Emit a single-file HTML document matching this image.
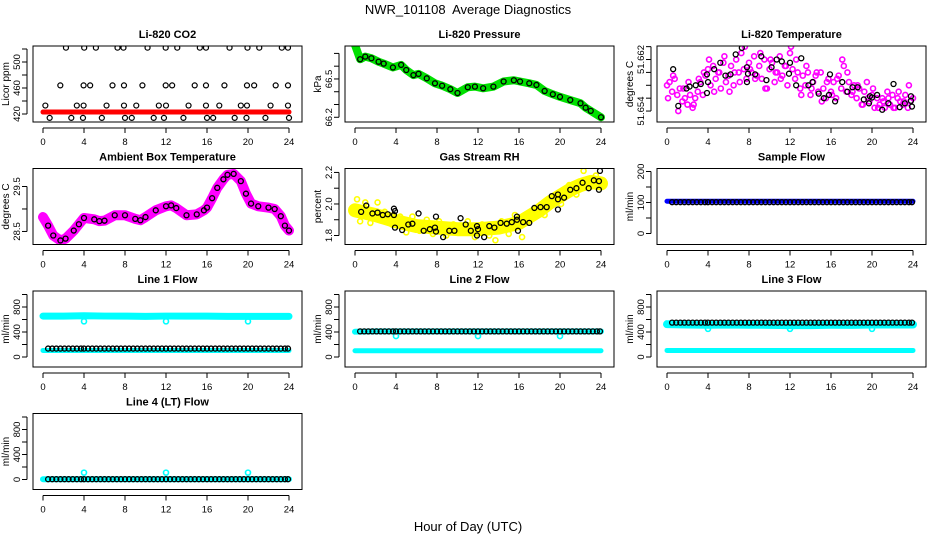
<!DOCTYPE html>
<html><head><meta charset="utf-8"><style>
html,body{margin:0;padding:0;background:#fff}
svg{display:block;font-family:"Liberation Sans",Arial,sans-serif}
</style></head><body>
<svg id="chart" width="936" height="540" viewBox="0 0 936 540" xmlns="http://www.w3.org/2000/svg">
<rect width="936" height="540" fill="#fff"/>
<text x="468" y="14" text-anchor="middle" font-size="13" style="white-space:pre">NWR_101108  Average Diagnostics</text>
<text x="468" y="531" text-anchor="middle" font-size="13">Hour of Day (UTC)</text>
</svg>
<script>
// ---- shared data ----
const xTicks = [0,4,8,12,16,20,24];
const blackTimes = [0.5,0.9,1.3,1.7,2.1,2.5,2.9,3.3,3.7,4.0,4.4,4.8,5.2,5.6,6.0,6.4,6.8,7.2,7.6,8.0,8.4,8.8,9.2,9.6,10.0,10.4,10.8,11.2,11.6,12.0,12.4,12.8,13.2,13.6,14.0,14.4,14.8,15.2,15.6,16.0,16.4,16.8,17.2,17.6,18.0,18.4,18.8,19.2,19.6,20.0,20.4,20.8,21.2,21.6,22.0,22.4,22.8,23.2,23.6,23.9];
const bandHours = [0,2,4,6,8,10,12,14,16,18,20,22,24];

// CO2
const co2RedVals = [423,423,423,423,423,423,423,423,423,423,423,423,423];
const co2BlackTimes = [2.24,4.02,5.16,7.27,7.85,10.2,11.97,13.1,15.3,15.9,18.2,19.95,21.1,23.3,23.9,
 1.69,3.96,4.6,6.78,7.9,9.7,11.97,12.6,14.8,15.9,17.7,19.9,20.6,22.7,23.9,
 0.23,3.3,3.96,6.2,7.9,9.1,11.3,12.0,14.2,15.9,17.2,19.3,19.9,22.2,23.9,
 0.65,2.76,3.9,5.74,8.0,8.66,10.8,11.8,13.7,16.0,16.6,18.7,19.85,21.7,24.0];
const co2BlackVals = [522,522,522,522,522,522,522,522,522,522,522,522,522,522,522,
 464,464,464,464,464,464,464,464,464,464,464,464,464,464,464,
 433,433,433,433,433,433,433,433,433,433,433,433,433,433,433,
 414,414,414,414,414,414,414,414,414,414,414,414,414,414,414];

// Pressure
const presHours = [0,0.5,1,1.6,2.3,2.8,3.7,4.5,5,5.7,6.2,7,7.8,8.5,9.3,10,11,11.7,12.5,13.5,14.5,15.5,16.1,17,17.7,18.5,19.3,20,21,22,22.5,23,24];
const presVals = [66.766,66.654,66.675,66.662,66.635,66.62,66.59,66.61,66.57,66.53,66.54,66.505,66.466,66.447,66.42,66.39,66.435,66.44,66.427,66.44,66.48,66.49,66.48,66.466,66.453,66.406,66.38,66.36,66.335,66.31,66.275,66.25,66.2];

// Li-820 temperature
const tempMagTimes = [0,0.25,0.5,0.75,1,1.25,1.5,1.75,2,2.25,2.5,2.75,3,3.25,3.5,3.75,4,4.25,4.5,4.75,5,5.25,5.5,5.75,6,6.25,6.5,6.75,7,7.25,7.5,7.75,8,8.25,8.5,8.75,9,9.25,9.5,9.75,10,10.25,10.5,10.75,11,11.25,11.5,11.75,12,12.25,12.5,12.75,13,13.25,13.5,13.75,14,14.25,14.5,14.75,15,15.25,15.5,15.75,16,16.25,16.5,16.75,17,17.25,17.5,17.75,18,18.25,18.5,18.75,19,19.25,19.5,19.75,20,20.25,20.5,20.75,21,21.25,21.5,21.75,22,22.25,22.5,22.75,23,23.25,23.5,23.75,24];
const tempMagVals = [51.6580,51.6585,51.6570,51.6590,51.6565,51.6575,51.6555,51.6560,51.6550,51.6565,51.6545,51.6560,
 51.6570,51.6585,51.6565,51.6595,51.6605,51.6580,51.6610,51.6590,51.6600,51.6575,51.6615,51.6585,
 51.6595,51.6610,51.6580,51.6620,51.6600,51.6630,51.6605,51.6590,51.6615,51.6600,51.6625,51.6595,
 51.6610,51.6590,51.6620,51.6575,51.6605,51.6615,51.6585,51.6600,51.6625,51.6595,51.6610,51.6580,
 51.6630,51.6605,51.6590,51.6600,51.6575,51.6595,51.6580,51.6600,51.6565,51.6585,51.6595,51.6570,
 51.6600,51.6575,51.6560,51.6590,51.6570,51.6585,51.6560,51.6595,51.6575,51.6610,51.6570,51.6585,
 51.6565,51.6580,51.6560,51.6575,51.6550,51.6570,51.6585,51.6555,51.6565,51.6545,51.6560,51.6550,
 51.6560,51.6545,51.6570,51.6550,51.6565,51.6545,51.6560,51.6555,51.6550,51.6565,51.6545,51.6555,
 51.6560];
const tempMag2Times = [0.1,0.6,1.1,1.6,2.1,2.6,3.1,3.6,4.1,4.6,5.1,5.6,6.1,6.6,7.1,7.6,8.1,8.6,9.1,9.6,10.1,10.6,11.1,11.6,12.1,12.6,13.1,13.6,14.1,14.6,15.1,15.6,16.1,16.6,17.1,17.6,18.1,18.6,19.1,19.6,20.1,20.6,21.1,21.6,22.1,22.6,23.1,23.6];
const tempMag2Vals = [51.6560,51.6595,51.6540,51.6575,51.6585,51.6550,51.6590,51.6600,51.6620,51.6570,51.6600,51.6625,51.6570,51.6600,51.6585,51.6640,51.6605,51.6590,51.6630,51.6575,51.6620,51.6600,51.6590,51.6610,51.6640,51.6620,51.6565,51.6610,51.6575,51.6600,51.6555,51.6585,51.6565,51.6590,51.6620,51.6600,51.6570,51.6580,51.6550,51.6560,51.6575,51.6545,51.6555,51.6560,51.6545,51.6570,51.6555,51.6580];
const tempBlackTimes = [0.6,1.1,1.9,2.2,2.8,3.3,3.9,3.9,4.0,4.6,5.2,5.7,6.2,6.7,7.3,7.8,7.8,7.9,8.6,9.2,9.7,10.2,10.7,11.2,11.9,12.0,12.6,13.1,13.8,14.2,14.8,15.3,15.8,15.9,16.4,17.1,17.6,18.1,18.6,19.2,19.7,19.8,20.0,20.5,21.0,21.6,22.1,22.7,23.2,23.8,23.8,23.9];
const tempBlackVals = [51.6605,51.6548,51.6575,51.6578,51.6580,51.6582,51.6597,51.6568,51.6585,51.6605,51.6615,51.6595,51.6597,51.6628,51.6638,51.6608,51.6585,51.6598,51.6597,51.6625,51.6588,51.6608,51.6620,51.6617,51.6598,51.6615,51.6580,51.6622,51.6580,51.6585,51.6567,51.6560,51.6565,51.6597,51.6555,51.6585,51.6570,51.6577,51.6577,51.6558,51.6552,51.6563,51.6561,51.6565,51.6542,51.6552,51.6582,51.6546,51.6552,51.6563,51.6556,51.6547];

// Ambient box temperature
const ambHours = [0,0.5,1,1.7,2.2,3,3.5,4,5,5.5,6,7,8,9,9.5,10,11,12,12.5,13,14,15,15.7,16,16.5,17,17.6,18,18.6,19.3,19.8,20.3,21,22,22.6,23.2,23.6,24];
const ambVals = [28.82,28.63,28.41,28.30,28.34,28.52,28.66,28.80,28.77,28.73,28.74,28.86,28.86,28.78,28.75,28.82,28.97,29.06,29.08,29.02,28.86,28.88,28.97,29.03,29.24,29.47,29.66,29.76,29.78,29.62,29.34,29.12,29.06,29.03,29.00,28.84,28.63,28.52];

// Gas stream RH
const rhBandHours = [0,2,4,6,8,10,12,14,16,17,18,19,20,21,22,23,24];
const rhBandVals = [1.96,1.93,1.89,1.86,1.85,1.84,1.84,1.85,1.88,1.92,1.96,2.01,2.05,2.09,2.12,2.14,2.13];
const rhYellowTimes = [0.2,0.5,1.0,1.5,2.2,2.9,3.6,4.4,5.0,5.6,6.3,7.0,7.6,8.2,8.9,9.6,10.4,11.0,11.7,12.4,13.1,13.7,14.3,15.0,15.6,16.3,17.0,17.8,18.5,19.3,20.1,20.9,21.6,22.3,23.0,23.5];
const rhYellowVals = [2.03,1.89,2.01,1.88,2.01,1.95,1.87,1.92,1.82,1.92,1.83,1.90,1.81,1.89,1.80,1.87,1.82,1.89,1.79,1.87,1.80,1.77,1.89,1.81,1.93,1.79,1.90,1.94,1.93,2.03,2.00,2.12,2.06,2.21,2.11,2.18];
const rhBlackTimes = [0.6,1.1,1.7,2.2,2.7,3.2,3.8,3.8,3.9,3.9,4.6,5.2,5.6,6.2,6.7,7.3,7.8,7.9,7.9,8.6,9.2,9.7,10.3,10.8,11.3,11.9,11.9,12.0,12.6,13.1,13.6,14.2,14.8,15.3,15.8,15.8,15.9,16.4,17.0,17.5,18.1,18.7,19.2,19.8,19.8,19.8,20.4,21.0,21.6,22.2,22.8,23.3,23.8,23.8,23.9];
const rhBlackVals = [1.95,1.99,1.94,1.945,1.93,1.935,1.97,1.93,1.955,1.85,1.835,1.87,1.875,1.94,1.83,1.84,1.85,1.92,1.825,1.79,1.83,1.83,1.91,1.87,1.83,1.80,1.86,1.84,1.79,1.86,1.85,1.88,1.875,1.885,1.92,1.90,1.83,1.885,1.88,1.975,1.98,1.98,2.05,2.06,2.03,1.965,2.04,2.09,2.10,2.135,2.10,2.15,2.145,2.09,2.21];

// Flows
const sampleBlueVals = [104,104,104,104,104,104,104,104,104,104,104,104,104];
const sampleBlackVals = [101,101,101,101,101,101,101,101,101,101,101,101,101,101,101,101,101,101,101,101,101,101,101,101,101,101,101,101,101,101,101,101,101,101,101,101,101,101,101,101,101,101,101,101,101,101,101,101,101,101,101,101,101,101,101,101,101,101,101,101];
const line1CyanHigh = [655,655,660,655,655,650,655,655,655,650,650,650,650];
const line1CyanLow = [105,105,105,105,105,105,105,105,105,105,105,105,105];
const line1BlackVals = [135,135,135,135,135,135,135,135,135,135,135,135,135,135,135,135,135,135,135,135,135,135,135,135,135,135,135,135,135,135,135,135,135,135,135,135,135,135,135,135,135,135,135,135,135,135,135,135,135,135,135,135,135,135,135,135,135,135,135,135];
const line2CyanHigh = [405,410,410,410,410,410,410,410,410,410,410,410,410];
const line2CyanLow = [100,100,100,100,100,100,100,100,100,100,100,100,100];
const line2BlackVals = [410,410,410,410,410,410,410,410,410,410,410,410,410,410,410,410,410,410,410,410,410,410,410,410,410,410,410,410,410,410,410,410,410,410,410,410,410,410,410,410,410,410,410,410,410,410,410,410,410,410,410,410,410,410,410,410,410,410,410,410];
const line3CyanHigh = [525,520,515,520,515,515,510,510,515,515,520,520,520];
const line3CyanLow = [105,105,105,105,105,105,105,105,105,105,105,105,105];
const line3BlackVals = [550,550,550,550,550,550,550,550,550,550,550,550,550,550,550,550,550,550,550,550,550,550,550,550,550,550,550,550,550,550,550,550,550,550,550,550,550,550,550,550,550,550,550,550,550,550,550,550,550,550,550,550,550,550,550,550,550,550,550,550];
const line4CyanVals = [5,5,5,5,5,5,5,5,5,5,5,5,5];
const line4BlackVals = [5,5,5,5,5,5,5,5,5,5,5,5,5,5,5,5,5,5,5,5,5,5,5,5,5,5,5,5,5,5,5,5,5,5,5,5,5,5,5,5,5,5,5,5,5,5,5,5,5,5,5,5,5,5,5,5,5,5,5,5];
const outlierTimes = [4,12,20];
const line1Outliers = [570,570,570];
const line2Outliers = [335,335,335];
const line3Outliers = [450,450,450];
const line4Outliers = [110,110,110];
const flowTicks = [0,200,400,600,800,1000];
const flowLabels = [0,400,800];

// ---- drawing ----
const svg = document.getElementById('chart');
const NS = 'http://www.w3.org/2000/svg';
function mk(tag, attrs, parent){
  const e = document.createElementNS(NS, tag);
  for (const k in attrs) e.setAttribute(k, attrs[k]);
  (parent||svg).appendChild(e);
  return e;
}
function panel(col,row,cfg){
  const L = 33 + 312*col, R = L + 269;
  const T = 46 + 122.5*row, B = T + 76;
  const g = mk('g', {});
  
  
  const xs = h => L + 10 + h*10.25;
  const ys = v => B - (v - cfg.lo)/(cfg.hi - cfg.lo)*76;
  const clipId = 'clip-' + cfg.name;
  const cp = mk('clipPath', {id: clipId}, g);
  mk('rect', {x: L, y: T, width: 269, height: 76}, cp);
  const marks = mk('g', {'clip-path': 'url(#' + clipId + ')'}, g);
  
  
  cfg.draw(marks, xs, ys);
  const box = mk('rect', {x: L, y: T, width: 269, height: 76, fill: 'none', stroke: '#000', 'stroke-width': 1}, g);
  
  
  const xa = mk('g', {}, g);
  
  
  mk('line', {x1: xs(0), x2: xs(24), y1: B+6, y2: B+6, stroke: '#000'}, xa);
  xTicks.forEach(t => {
    mk('line', {x1: xs(t), x2: xs(t), y1: B+6, y2: B+11, stroke: '#000'}, xa);
    const tx = mk('text', {x: xs(t), y: B+23, 'text-anchor': 'middle', 'font-size': 9.5}, xa);
    tx.textContent = t;
  });
  const ya = mk('g', {}, g);
  
  
  const tks = cfg.ticks;
  mk('line', {x1: L-6, x2: L-6, y1: ys(tks[0]), y2: ys(tks[tks.length-1]), stroke: '#000'}, ya);
  tks.forEach(t => mk('line', {x1: L-11, x2: L-6, y1: ys(t), y2: ys(t), stroke: '#000'}, ya));
  cfg.labels.forEach((t,i) => {
    const tx = mk('text', {x: 0, y: 0, 'text-anchor': 'middle', 'font-size': 9.5, transform: 'translate(' + (L-13) + ',' + ys(t) + ') rotate(-90)'}, ya);
    tx.textContent = cfg.labelText ? cfg.labelText[i] : t;
  });
  const yt = mk('text', {x: 0, y: 0, 'text-anchor': 'middle', 'font-size': 10, transform: 'translate(' + (L-24) + ',' + (T+38) + ') rotate(-90)'}, g);
  
  
  yt.textContent = cfg.ylab;
  const tt = mk('text', {x: L+134.5, y: T-8, 'text-anchor': 'middle', 'font-size': 11, 'font-weight': 'bold'}, g);
  
  
  tt.textContent = cfg.title;
}
function band(g, xs, ys, hrs, vals, color, w, name){
  const p = mk('polyline', {points: hrs.map((h,i) => xs(h) + ',' + ys(vals[i])).join(' '), fill: 'none', stroke: color, 'stroke-width': w, 'stroke-linejoin': 'round', 'stroke-linecap': 'round'}, g);
  
  
}
function pts(g, xs, ys, hrs, vals, color, sw, name){
  const gg = mk('g', {}, g);
  
  
  hrs.forEach((h,i) => {
    const c = mk('circle', {cx: xs(h), cy: ys(vals[i]), r: 2.5, fill: 'none', stroke: color, 'stroke-width': sw}, gg);
    
    
  });
}
const CY = '#00ffff';

panel(0,0,{name:'co2', title:'Li-820 CO2', ylab:'Licor ppm', lo:407.7, hi:524.6, ticks:[420,440,460,480,500,520], labels:[420,460,500],
  draw:(g,xs,ys)=>{ band(g,xs,ys,bandHours,co2RedVals,'#ff0000',5,'co2-red-series'); pts(g,xs,ys,co2BlackTimes,co2BlackVals,'#000',1.2,'co2-black-points'); }});
panel(1,0,{name:'pressure', title:'Li-820 Pressure', ylab:'kPa', lo:66.163, hi:66.758, ticks:[66.2,66.3,66.4,66.5,66.6,66.7], labels:[66.2,66.5],
  draw:(g,xs,ys)=>{ band(g,xs,ys,presHours,presVals,'#00e000',8,'pressure-green-series'); pts(g,xs,ys,presHours.slice(1),presVals.slice(1),'#000',1.3,'pressure-black-points'); }});
panel(2,0,{name:'li820-temp', title:'Li-820 Temperature', ylab:'degrees C', lo:51.6523, hi:51.6641, ticks:[51.654,51.656,51.658,51.66,51.662,51.664], labels:[51.654,51.662], labelText:['51.654','51.662'],
  draw:(g,xs,ys)=>{ pts(g,xs,ys,tempMagTimes,tempMagVals,'#ff00ff',1.6,'temp-magenta-points'); pts(g,xs,ys,tempMag2Times,tempMag2Vals,'#ff00ff',1.6,'temp-magenta-points-2'); pts(g,xs,ys,tempBlackTimes,tempBlackVals,'#000',1.3,'temp-black-points'); }});
panel(0,1,{name:'ambient-temp', title:'Ambient Box Temperature', ylab:'degrees C', lo:28.21, hi:29.9, ticks:[28.5,29.0,29.5], labels:[28.5,29.5], labelText:['28.5','29.5'],
  draw:(g,xs,ys)=>{ band(g,xs,ys,ambHours,ambVals,'#ff00ff',10,'ambient-magenta-series'); pts(g,xs,ys,ambHours.slice(1),ambVals.slice(1),'#000',1.3,'ambient-black-points'); }});
panel(1,1,{name:'gas-rh', title:'Gas Stream RH', ylab:'percent', lo:1.743, hi:2.225, ticks:[1.8,1.9,2.0,2.1,2.2], labels:[1.8,2.0,2.2], labelText:['1.8','2.0','2.2'],
  draw:(g,xs,ys)=>{ band(g,xs,ys,rhBandHours,rhBandVals,'#ffff00',14,'rh-yellow-series'); pts(g,xs,ys,rhYellowTimes,rhYellowVals,'#ffff00',1.6,'rh-yellow-points'); pts(g,xs,ys,rhBlackTimes,rhBlackVals,'#000',1.3,'rh-black-points'); }});
panel(2,1,{name:'sample-flow', title:'Sample Flow', ylab:'ml/min', lo:-35.5, hi:209.7, ticks:[0,50,100,150,200], labels:[0,100,200],
  draw:(g,xs,ys)=>{ band(g,xs,ys,bandHours,sampleBlueVals,'#0000ff',5,'sample-blue-series'); pts(g,xs,ys,blackTimes,sampleBlackVals,'#000',1.3,'sample-black-points'); }});
const flowCfg = (name,title,draw)=>({name, title, ylab:'ml/min', lo:-160, hi:1056, ticks:flowTicks, labels:flowLabels, draw});
panel(0,2,flowCfg('line1-flow','Line 1 Flow',(g,xs,ys)=>{ band(g,xs,ys,bandHours,line1CyanHigh,CY,7,'line1-cyan-high'); band(g,xs,ys,bandHours,line1CyanLow,CY,5,'line1-cyan-low'); pts(g,xs,ys,outlierTimes,line1Outliers,CY,1.6,'line1-outliers'); pts(g,xs,ys,blackTimes,line1BlackVals,'#000',1.3,'line1-black-points'); }));
panel(1,2,flowCfg('line2-flow','Line 2 Flow',(g,xs,ys)=>{ band(g,xs,ys,bandHours,line2CyanHigh,CY,6,'line2-cyan-high'); band(g,xs,ys,bandHours,line2CyanLow,CY,5,'line2-cyan-low'); pts(g,xs,ys,outlierTimes,line2Outliers,CY,1.6,'line2-outliers'); pts(g,xs,ys,blackTimes,line2BlackVals,'#000',1.3,'line2-black-points'); }));
panel(2,2,flowCfg('line3-flow','Line 3 Flow',(g,xs,ys)=>{ band(g,xs,ys,bandHours,line3CyanHigh,CY,8,'line3-cyan-high'); band(g,xs,ys,bandHours,line3CyanLow,CY,5,'line3-cyan-low'); pts(g,xs,ys,outlierTimes,line3Outliers,CY,1.6,'line3-outliers'); pts(g,xs,ys,blackTimes,line3BlackVals,'#000',1.3,'line3-black-points'); }));
panel(0,3,flowCfg('line4-flow','Line 4 (LT) Flow',(g,xs,ys)=>{ band(g,xs,ys,bandHours,line4CyanVals,CY,6,'line4-cyan-series'); pts(g,xs,ys,outlierTimes,line4Outliers,CY,1.6,'line4-outliers'); pts(g,xs,ys,blackTimes,line4BlackVals,'#000',1.3,'line4-black-points'); }));
</script>
</body></html>
